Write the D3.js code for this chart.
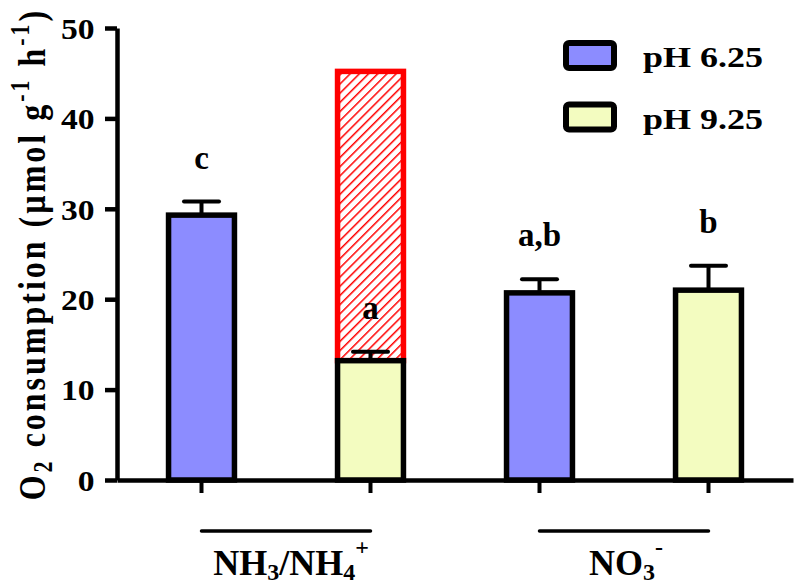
<!DOCTYPE html>
<html>
<head>
<meta charset="utf-8">
<script src="https://cdn.jsdelivr.net/npm/d3@7"></script>
<style>
  body { margin: 0; background: #fff; }
  svg { display: block; }
  text { font-family: "Liberation Serif", "Times New Roman", serif; font-weight: bold; fill: #000; }
</style>
</head>
<body>
<script>
// data
const groups = ["NH3/NH4+", "NO3-"];
const phLevels = ["pH 6.25", "pH 9.25"];
const bars = ["NH_6.25", "NH_9.25", "NO_6.25", "NO_9.25"];
const barGroup = [0, 0, 1, 1];
const barPh = [0, 1, 0, 1];
const means = [29.3, 13.2, 20.7, 21.0];
const errors = [1.5, 1.0, 1.5, 2.7];
const letters = ["c", "a", "a,b", "b"];
const hatchTops = [null, 45.2, null, null];
const yTicks = [0, 10, 20, 30, 40, 50];

const phColors = ["#8c8cff", "#f3fcc0"];

const width = 797, height = 587;

const svg = d3.select("body").append("svg")
  .attr("width", width)
  .attr("height", height);

const defs = svg.append("defs");
const pat = defs.append("pattern")
  .attr("id", "hatch")
  .attr("patternUnits", "userSpaceOnUse")
  .attr("width", 6.5)
  .attr("height", 6.5)
  .attr("patternTransform", "rotate(45)");
pat.append("rect").attr("width", 6.5).attr("height", 6.5).attr("fill", "#fff");
pat.append("line")
  .attr("x1", 0).attr("y1", 0).attr("x2", 0).attr("y2", 6.5)
  .attr("stroke", "#ff0000").attr("stroke-width", 3);

const x = d3.scaleBand()
  .domain(bars)
  .range([117, 793])
  .paddingInner(0.61)
  .paddingOuter(0.305);

const y = d3.scaleLinear()
  .domain([0, 50])
  .range([480, 28]);

// hatched red segment behind the NH3 pH 9.25 bar
svg.append("g").selectAll("rect")
  .data(bars.filter((b, i) => hatchTops[i] != null))
  .join("rect")
  .attr("x", d => x(d))
  .attr("width", x.bandwidth())
  .attr("y", d => y(hatchTops[bars.indexOf(d)]))
  .attr("height", d => y(means[bars.indexOf(d)]) - y(hatchTops[bars.indexOf(d)]))
  .attr("fill", "url(#hatch)")
  .attr("stroke", "#ff0000")
  .attr("stroke-width", 5.5);

// bars
svg.append("g").selectAll("rect")
  .data(bars)
  .join("rect")
  .attr("x", d => x(d))
  .attr("width", x.bandwidth())
  .attr("y", (d, i) => y(means[i]))
  .attr("height", (d, i) => y(0) - y(means[i]))
  .attr("fill", (d, i) => phColors[barPh[i]])
  .attr("stroke", "#000")
  .attr("stroke-width", 5.5);

// error bars
const eb = svg.append("g").attr("stroke", "#000").attr("stroke-width", 4);
bars.forEach((b, i) => {
  const cx = x(b) + x.bandwidth() / 2;
  eb.append("line")
    .attr("x1", cx).attr("x2", cx)
    .attr("y1", y(means[i]) - 2).attr("y2", y(means[i] + errors[i]));
  eb.append("line")
    .attr("x1", cx - 17.5).attr("x2", cx + 17.5)
    .attr("y1", y(means[i] + errors[i])).attr("y2", y(means[i] + errors[i]))
    .attr("stroke-linecap", "round");
});

// significance letters
svg.append("g").selectAll("text")
  .data(bars)
  .join("text")
  .attr("x", d => x(d) + x.bandwidth() / 2)
  .attr("y", (d, i) => y(means[i] + errors[i]) - 33)
  .attr("text-anchor", "middle")
  .attr("font-size", 33)
  .text((d, i) => letters[i]);

// axes
const yAxis = svg.append("g")
  .attr("transform", "translate(117,0)")
  .call(d3.axisLeft(y).tickValues(yTicks).tickSize(12).tickSizeOuter(0).tickPadding(8));
yAxis.select(".domain").attr("stroke-width", 4.5);
yAxis.selectAll(".tick line").attr("stroke-width", 4.5);
yAxis.selectAll(".tick text")
  .attr("font-size", 30)
  .attr("font-family", "Liberation Serif, serif")
  .attr("font-weight", "bold")
  .attr("dy", "0.34em")
  .attr("transform", "scale(1.12,1)");

const xAxis = svg.append("g")
  .attr("transform", "translate(0,480)")
  .call(d3.axisBottom(x).tickSize(13).tickSizeOuter(0).tickFormat(""));
xAxis.select(".domain").attr("stroke-width", 4.5);
xAxis.selectAll(".tick line").attr("stroke-width", 4);

// group brackets under the axis
const groupBars = groups.map((g, gi) => bars.filter((b, i) => barGroup[i] === gi));
svg.append("g").selectAll("line")
  .data(groupBars)
  .join("line")
  .attr("x1", d => x(d[0]) + x.bandwidth() / 2)
  .attr("x2", d => x(d[d.length - 1]) + x.bandwidth() / 2)
  .attr("y1", 531).attr("y2", 531)
  .attr("stroke", "#000")
  .attr("stroke-width", 3.5)
  .attr("stroke-linecap", "round");

const gl = svg.append("g").attr("font-size", 36);
const groupMid = gb => (x(gb[0]) + x(gb[gb.length - 1])) / 2 + x.bandwidth() / 2;
// NH3/NH4+
const t1 = gl.append("text")
  .attr("x", groupMid(groupBars[0]) + 5)
  .attr("y", 575)
  .attr("text-anchor", "middle");
t1.append("tspan").text("NH");
t1.append("tspan").attr("font-size", 24).attr("dy", 5).text("3");
t1.append("tspan").attr("dy", -5).text("/NH");
t1.append("tspan").attr("font-size", 24).attr("dy", 5).text("4");
t1.append("tspan").attr("font-size", 24).attr("dy", -25).text("+");
// NO3-
const t2 = gl.append("text")
  .attr("x", groupMid(groupBars[1]) + 2)
  .attr("y", 575)
  .attr("text-anchor", "middle");
t2.append("tspan").text("NO");
t2.append("tspan").attr("font-size", 24).attr("dy", 5).text("3");
t2.append("tspan").attr("font-size", 24).attr("dy", -25).text("-");

// y axis title
const yt = svg.append("text")
  .attr("transform", "translate(45,254) rotate(-90) scale(1,1.2)")
  .attr("text-anchor", "middle")
  .attr("font-size", 32)
  .attr("letter-spacing", 3);
yt.append("tspan").text("O");
yt.append("tspan").attr("font-size", 22).attr("dy", 6).text("2");
yt.append("tspan").attr("dy", -6).text(" consumption (\u00b5mol g");
yt.append("tspan").attr("font-size", 22).attr("dy", -13).text("-1");
yt.append("tspan").attr("dy", 13).text(" h");
yt.append("tspan").attr("font-size", 22).attr("dy", -13).text("-1");
yt.append("tspan").attr("dy", 13).text(")");

// legend
const legend = svg.append("g").selectAll("g")
  .data(phLevels)
  .join("g")
  .attr("transform", (d, i) => `translate(566,${43 + i * 61.5})`);
legend.append("rect")
  .attr("width", 48)
  .attr("height", 25)
  .attr("rx", 3)
  .attr("fill", (d, i) => phColors[i])
  .attr("stroke", "#000")
  .attr("stroke-width", 6);
legend.append("text")
  .attr("transform", "translate(77,24) scale(1.2,1)")
  .attr("font-size", 30)
  .text(d => d);
</script>
</body>
</html>
